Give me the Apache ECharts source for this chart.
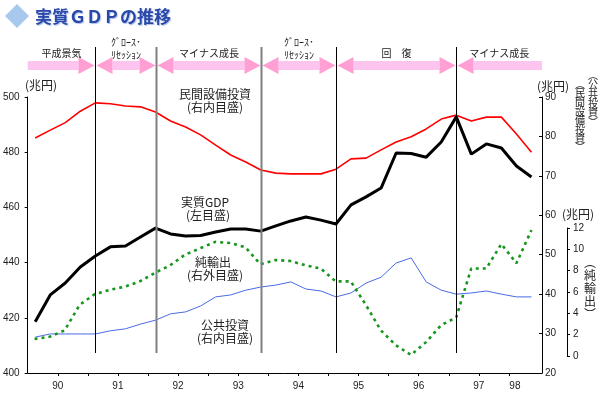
<!DOCTYPE html>
<html>
<head>
    <meta charset="utf-8">
    <title>実質GDPの推移</title>
    <script src="https://cdn.jsdelivr.net/npm/echarts@6.0.0/dist/echarts.min.js"></script>
    <style type="text/css">
        html, body { margin: 0; padding: 0; background: #fff; }
        #main { width: 600px; height: 399px; }
    </style>
</head>
<body>
<div id="main"></div>
<script>
    // 四半期 (1990Q1 - 1998Q2)
    var quarters = [];
    for (var y = 1990; y <= 1998; y++) {
        for (var q = 1; q <= 4; q++) {
            if (y === 1998 && q > 2) break;
            quarters.push(y + 'Q' + q);
        }
    }

    // 実質GDP (左目盛, 兆円)
    var gdp = [418.6, 428.3, 432.6, 438.4, 442.4, 445.7, 446.0, 449.3, 452.5, 450.4, 449.6, 449.8,
        451.1, 452.2, 452.2, 451.4, 453.3, 455.1, 456.5, 455.4, 454.0, 460.9, 463.8, 467.0,
        479.7, 479.5, 478.2, 483.7, 492.8, 479.3, 483.0, 481.5, 475.0, 471.0];
    // 民間設備投資 (右内目盛)
    var capex = [79.6, 81.6, 83.5, 86.4, 88.5, 88.3, 87.7, 87.5, 86.2, 83.9, 82.4, 80.4,
        77.8, 75.3, 73.5, 71.5, 70.7, 70.5, 70.5, 70.5, 71.7, 74.3, 74.5, 76.6,
        78.6, 79.9, 81.9, 84.4, 85.4, 83.9, 84.9, 84.9, 80.6, 76.0];
    // 公共投資 (右内目盛)
    var publicInv = [29.1, 29.9, 29.9, 29.9, 29.9, 30.7, 31.2, 32.4, 33.4, 35.0, 35.5, 37.0,
        39.3, 39.8, 41.0, 41.8, 42.3, 43.1, 41.3, 40.8, 39.3, 40.3, 42.8, 44.3,
        47.9, 49.2, 43.1, 41.0, 40.0, 40.3, 40.8, 40.0, 39.3, 39.3];
    // 純輸出 (右外目盛)
    var netExports = [1.6, 1.8, 2.4, 4.8, 5.8, 6.2, 6.5, 7.0, 7.8, 8.5, 9.5, 10.1,
        10.7, 10.6, 10.2, 8.6, 9.0, 8.9, 8.5, 8.2, 7.0, 7.0, 4.8, 2.4,
        1.0, 0.1, 1.3, 2.9, 3.6, 8.2, 8.2, 10.5, 8.7, 11.8];

    // 景気局面の区切り (四半期)
    var phaseBounds = ['1991Q1', '1992Q1', '1993Q4', '1995Q1', '1997Q1'];
    var phaseNames = [['平成景気'], ['ｸﾞﾛｰｽ･', 'ﾘｾｯｼｮﾝ'], ['マイナス成長'], ['ｸﾞﾛｰｽ･', 'ﾘｾｯｼｮﾝ'], ['回　復'], ['マイナス成長']];

    var yearLabels = ['90', '91', '92', '93', '94', '95', '96', '97', '98'];

    function qTime(label) {
        var yr = parseInt(label.slice(0, 4), 10);
        var qq = parseInt(label.slice(5), 10);
        return yr + (qq - 0.5) / 4;
    }
    function pairs(arr) {
        return arr.map(function (v, i) { return [qTime(quarters[i]), v]; });
    }

    var numFont = "'Liberation Sans Narrow', 'Liberation Sans', sans-serif";
    var jpFont = "'Noto Sans CJK JP', sans-serif";

    var tickVals = [];
    for (var t = 1990.5; t <= 1998; t += 0.5) tickVals.push(t);
    var labelVals = yearLabels.map(function (s, i) { return i < yearLabels.length - 1 ? 1990.5 + i : 1998.1; });

    var chart = echarts.init(document.getElementById('main'));

    var option = {
        animation: false,
        backgroundColor: '#fff',
        grid: [
            {left: 27, right: 58, top: 97, bottom: 26},
            {left: 27, right: 58, top: 228, bottom: 43}
        ],
        xAxis: [
            {
                type: 'value', gridIndex: 0, min: 1990, max: 1998.55,
                axisLine: {show: true, lineStyle: {color: '#000', width: 1}},
                axisTick: {show: true, length: 3, customValues: tickVals, lineStyle: {color: '#000'}},
                axisLabel: {
                    customValues: labelVals, margin: 8, color: '#222', fontSize: 10, fontFamily: numFont,
                    formatter: function (v) { return String(Math.floor(v)).slice(2); }
                },
                splitLine: {show: false}
            },
            {type: 'value', gridIndex: 1, min: 1990, max: 1998.55, show: false}
        ],
        yAxis: [
            {
                type: 'value', gridIndex: 0, position: 'left', min: 400, max: 500, interval: 20,
                axisLine: {show: true, lineStyle: {color: '#000'}},
                axisTick: {show: true, length: 3, lineStyle: {color: '#000'}},
                axisLabel: {margin: 8, color: '#222', fontSize: 10, fontFamily: numFont},
                splitLine: {show: false}
            },
            {
                type: 'value', gridIndex: 0, position: 'right', min: 20, max: 90, interval: 10,
                axisLine: {show: true, lineStyle: {color: '#000'}},
                axisTick: {show: true, inside: true, length: 3, lineStyle: {color: '#000'}},
                axisLabel: {margin: 3, color: '#222', fontSize: 10, fontFamily: numFont},
                splitLine: {show: false}
            },
            {
                type: 'value', gridIndex: 1, position: 'right', offset: 25, min: 0, max: 12, interval: 2,
                axisLine: {show: true, lineStyle: {color: '#000'}},
                axisTick: {show: true, length: 3, lineStyle: {color: '#000'}},
                axisLabel: {margin: 6, color: '#222', fontSize: 10, fontFamily: numFont},
                splitLine: {show: false}
            }
        ],
        series: [
            {
                name: '公共投資', type: 'line', xAxisIndex: 0, yAxisIndex: 1, data: pairs(publicInv),
                showSymbol: false, lineStyle: {color: '#4a6ae6', width: 1}
            },
            {
                name: '民間設備投資', type: 'line', xAxisIndex: 0, yAxisIndex: 1, data: pairs(capex),
                showSymbol: false, lineStyle: {color: '#ff0000', width: 1.6}
            },
            {
                name: '純輸出', type: 'line', xAxisIndex: 1, yAxisIndex: 2, data: pairs(netExports),
                showSymbol: false, lineStyle: {color: '#16961c', width: 2.6, type: [3, 4]}
            },
            {
                name: '実質GDP', type: 'line', xAxisIndex: 0, yAxisIndex: 0, data: pairs(gdp),
                showSymbol: false, lineStyle: {color: '#000', width: 3}
            }
        ]
    };
    chart.setOption(option);

    // 区切り線・矢印は軸の座標から配置
    var xStart = chart.convertToPixel({xAxisIndex: 0}, 1990);
    var xEnd = chart.convertToPixel({xAxisIndex: 0}, 1998.55);
    var bx = phaseBounds.map(function (b) { return Math.round(chart.convertToPixel({xAxisIndex: 0}, qTime(b))) + 0.5; });
    var edges = [xStart].concat(bx).concat([xEnd]);

    var g = [];
    var ay = 65.5, bodyH = 4.5, headH = 8.5, headL = 17;
    for (var i = 0; i < edges.length - 1; i++) {
        var x1 = edges[i], x2 = edges[i + 1];
        var lh = i > 0, rh = i < edges.length - 2;
        var b1 = lh ? x1 + headL : x1, b2 = rh ? x2 - headL : x2;
        g.push({type: 'rect', shape: {x: b1, y: ay - bodyH, width: b2 - b1, height: bodyH * 2}, style: {fill: '#fcc4ee'}});
        if (lh) g.push({type: 'polygon', shape: {points: [[x1 + 1, ay], [x1 + headL, ay - headH], [x1 + headL, ay + headH]]}, style: {fill: '#ff9fd3'}});
        if (rh) g.push({type: 'polygon', shape: {points: [[x2 - 1, ay], [x2 - headL, ay - headH], [x2 - headL, ay + headH]]}, style: {fill: '#ff9fd3'}});
        var cx = (x1 + x2) / 2, lines = phaseNames[i];
        lines.forEach(function (s, k) {
            var ty = lines.length === 1 ? 53 : 42 + k * 13;
            g.push({type: 'text', style: {text: s, x: cx, y: ty, textAlign: 'center', textVerticalAlign: 'middle', font: '10px ' + jpFont, fill: '#222'}});
        });
    }
    var sepStyle = [
        {stroke: '#000', lineWidth: 1}, {stroke: '#808080', lineWidth: 2}, {stroke: '#808080', lineWidth: 2},
        {stroke: '#000', lineWidth: 1}, {stroke: '#000', lineWidth: 1}
    ];
    bx.forEach(function (x, k) {
        g.push({type: 'line', shape: {x1: x, y1: 47, x2: x, y2: 353}, style: sepStyle[k], z: 10});
    });

    // タイトル
    g.push({type: 'polygon', shape: {points: [[17, 4], [29, 16], [17, 28], [5, 16]]}, style: {fill: '#a9c8ee'}});
    g.push({type: 'text', style: {text: '実質ＧＤＰの推移', x: 35, y: 17, textVerticalAlign: 'middle', font: 'bold 17px ' + jpFont, fill: '#2a48a8', textShadowColor: 'rgba(120,150,220,0.6)', textShadowOffsetX: 1, textShadowOffsetY: 1, textShadowBlur: 1}});

    // 単位
    function label(text, x, y, size, align) {
        g.push({type: 'text', style: {text: text, x: x, y: y, textAlign: align || 'center', textVerticalAlign: 'middle', font: (size || 12) + 'px ' + jpFont, fill: '#222'}});
    }
    label('(兆円)', 41, 85, 12);
    label('(兆円)', 553, 86, 12);
    label('(兆円)', 578, 214, 12);
    // 縦書きの単位ラベル
    function column(chars, x, y0, step, size) {
        chars.forEach(function (c, k) { label(c, x, y0 + k * step, size); });
    }
    column(['︵', '民', '間', '設', '備', '投', '資', '︶'], 580, 84, 9, 10);
    column(['︵', '公', '共', '投', '資', '︶'], 593, 75, 9.4, 10);
    column(['︵', '純', '輸', '出', '︶'], 590, 262, 13, 12);

    // 系列名
    label('民間設備投資', 215, 94, 12);
    label('(右内目盛)', 215, 107, 12);
    label('実質GDP', 205, 202, 12);
    label('(左目盛)', 208, 215, 12);
    label('純輸出', 213, 262, 12);
    label('(右外目盛)', 215, 275, 12);
    label('公共投資', 225, 325, 12);
    label('(右内目盛)', 225, 338, 12);

    chart.setOption({graphic: g});
</script>
</body>
</html>
